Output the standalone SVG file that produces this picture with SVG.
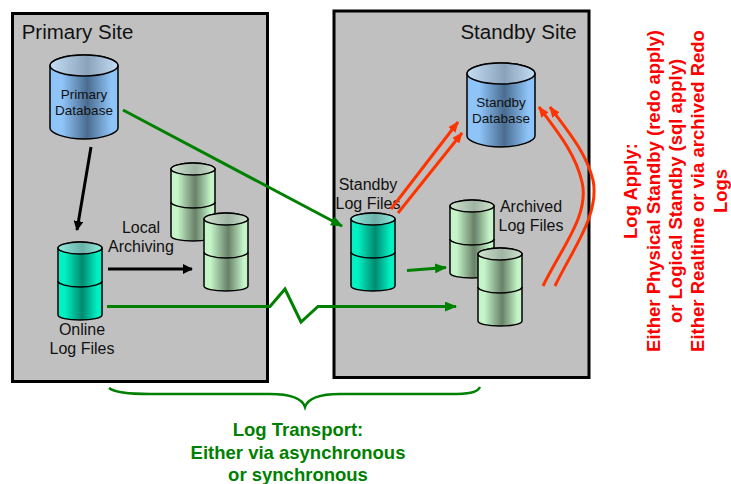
<svg xmlns="http://www.w3.org/2000/svg" width="731" height="484" viewBox="0 0 731 484">
<style>
text{font-family:"Liberation Sans",Arial,sans-serif;fill:#111;text-anchor:middle}
.site{fill:#c0c0c0;stroke:#000;stroke-width:3}
.h{font-size:20.500px}.db{font-size:13.500px}.l{font-size:16px}
.g{font-size:18.500px;font-weight:bold;fill:#008000}
.r{font-size:18.500px;font-weight:bold;fill:#ff0000}
.c{stroke:#000;stroke-width:1.5}
.gl{fill:none;stroke:#008000;stroke-width:3}
.bl{fill:none;stroke:#000;stroke-width:3}
.rl{fill:none;stroke:#ff3300;stroke-width:3}
</style>
<defs>
<linearGradient id="blue"><stop offset="0" stop-color="#8fc4f8"/><stop offset=".18" stop-color="#8fc4f8"/><stop offset=".55" stop-color="#4a6c90"/><stop offset=".9" stop-color="#8fc4f8"/><stop offset="1" stop-color="#8fc4f8"/></linearGradient>
<linearGradient id="blueT"><stop offset="0" stop-color="#c4def6"/><stop offset=".55" stop-color="#8ba3ba"/><stop offset="1" stop-color="#c4def6"/></linearGradient>
<linearGradient id="teal"><stop offset="0" stop-color="#00f2c4"/><stop offset=".15" stop-color="#00f2c4"/><stop offset=".55" stop-color="#008a70"/><stop offset=".9" stop-color="#00f2c4"/><stop offset="1" stop-color="#00f2c4"/></linearGradient>
<linearGradient id="tealT"><stop offset="0" stop-color="#90ece0"/><stop offset=".55" stop-color="#6cb0a8"/><stop offset="1" stop-color="#90ece0"/></linearGradient>
<linearGradient id="gr"><stop offset="0" stop-color="#c4f4c8"/><stop offset=".15" stop-color="#c4f4c8"/><stop offset=".55" stop-color="#688068"/><stop offset=".9" stop-color="#c4f4c8"/><stop offset="1" stop-color="#c4f4c8"/></linearGradient>
<linearGradient id="grT"><stop offset="0" stop-color="#d0e4d0"/><stop offset=".55" stop-color="#a0b4a4"/><stop offset="1" stop-color="#d0e4d0"/></linearGradient>
<marker id="ag" markerUnits="userSpaceOnUse" markerWidth="12" markerHeight="10" refX="11" refY="5" orient="auto"><path d="M0 0L12 5L0 10z" fill="#008000"/></marker>
<marker id="ak" markerUnits="userSpaceOnUse" markerWidth="10" markerHeight="10" refX="9" refY="5" orient="auto"><path d="M0 0L10 5L0 10z" fill="#000"/></marker>
<marker id="ar" markerUnits="userSpaceOnUse" markerWidth="11" markerHeight="9" refX="10" refY="4.500" orient="auto"><path d="M0 0L11 4.500L0 9z" fill="#ff3300"/></marker>
<path id="cyl2" class="c" d="M0 6V73C0 76 10 78 22 78S44 76 44 73V6C44 3 34 0 22 0S0 3 0 6z"/>
<path id="lid2" class="c" d="M0 6C0 9 10 12 22 12S44 9 44 6C44 3 34 0 22 0S0 3 0 6z"/>
<path id="mid2" fill="none" class="c" d="M0 39C0 42 10 45 22 45S44 42 44 39"/>
<path id="cyl1" class="c" d="M0 10.500V73C0 78 15 84 34 84S68 78 68 73V10.500C68 5 53 0 34 0S0 5 0 10.500z"/>
<path id="lid1" class="c" d="M0 10.500C0 16 15 21 34 21S68 16 68 10.500C68 5 53 0 34 0S0 5 0 10.500z"/>
</defs>
<rect id="primary-site" class="site" x="12.500" y="13.500" width="255" height="368"/>
<rect id="standby-site" class="site" x="334" y="11" width="255" height="366.500"/>
<text class="h" x="77.500" y="39">Primary Site</text>
<text class="h" x="518.500" y="39">Standby Site</text>
<g id="primary-db" transform="translate(50,55)"><use href="#cyl1" fill="url(#blue)"/><use href="#lid1" fill="url(#blueT)"/><text class="db" x="34" y="44">Primary</text><text class="db" x="34" y="60">Database</text></g>
<g id="standby-db" transform="translate(467,63)"><use href="#cyl1" fill="url(#blue)"/><use href="#lid1" fill="url(#blueT)"/><text class="db" x="34" y="44">Standby</text><text class="db" x="34" y="60">Database</text></g>
<g id="local-archive-1" transform="translate(171,163)"><use href="#cyl2" fill="url(#gr)"/><use href="#lid2" fill="url(#grT)"/><use href="#mid2"/></g>
<g id="local-archive-2" transform="translate(204,213)"><use href="#cyl2" fill="url(#gr)"/><use href="#lid2" fill="url(#grT)"/><use href="#mid2"/></g>
<g id="online-logs" transform="translate(58,242)"><use href="#cyl2" fill="url(#teal)"/><use href="#lid2" fill="url(#tealT)"/><use href="#mid2"/></g>
<g id="standby-logs" transform="translate(351,213)"><use href="#cyl2" fill="url(#teal)"/><use href="#lid2" fill="url(#tealT)"/><use href="#mid2"/></g>
<g id="archive-1" transform="translate(450,200)"><use href="#cyl2" fill="url(#gr)"/><use href="#lid2" fill="url(#grT)"/><use href="#mid2"/></g>
<g id="archive-2" transform="translate(478,248)"><use href="#cyl2" fill="url(#gr)"/><use href="#lid2" fill="url(#grT)"/><use href="#mid2"/></g>
<g id="labels">
<text class="l" x="141" y="233">Local</text><text class="l" x="141" y="252">Archiving</text>
<text class="l" x="82" y="335">Online</text><text class="l" x="82" y="354">Log Files</text>
<text class="l" x="368" y="190">Standby</text><text class="l" x="368" y="209">Log Files</text>
<text class="l" x="531" y="212">Archived</text><text class="l" x="531" y="231">Log Files</text>
</g>
<g id="connectors">
<path class="bl" d="M91 147L77 230" marker-end="url(#ak)"/>
<path class="bl" d="M108 269H192" marker-end="url(#ak)"/>
<path class="gl" d="M123 110L342 226" marker-end="url(#ag)"/>
<path class="gl" d="M107 306.500H270L285 289L301 322L318 306.500H456" marker-end="url(#ag)"/>
<path class="gl" d="M407 270.500L446 267.500" marker-end="url(#ag)"/>
<path class="rl" d="M391 209L458 122" marker-end="url(#ar)"/>
<path class="rl" d="M398 213L462 133" marker-end="url(#ar)"/>
<path class="rl" d="M543 286C560 250 590 215 582 182C575 152 556 130 539 107" marker-end="url(#ar)"/>
<path class="rl" d="M555 286C572 250 600 215 593 180C586 152 567 130 550 107" marker-end="url(#ar)"/>
<path d="M109 388C115 393 130 394 150 394H270C290 394 302 398 305 407C308 398 320 394 340 394H450C468 394 477 393 480 387" fill="none" stroke="#008000" stroke-width="2.500"/>
</g>
<g id="transport-label">
<text class="g" x="298" y="436">Log Transport:</text>
<text class="g" x="298" y="459">Either via asynchronous</text>
<text class="g" x="298" y="481">or synchronous</text>
</g>
<g id="apply-label">
<text class="r" transform="translate(637,191) rotate(-90)">Log Apply:</text>
<text class="r" transform="translate(660,191) rotate(-90)">Either Physical Standby (redo apply)</text>
<text class="r" transform="translate(682,191) rotate(-90)">or Logical Standby (sql apply)</text>
<text class="r" transform="translate(704,191) rotate(-90)">Either Realtime or via archived Redo</text>
<text class="r" transform="translate(727,191) rotate(-90)">Logs</text>
</g>
</svg>
